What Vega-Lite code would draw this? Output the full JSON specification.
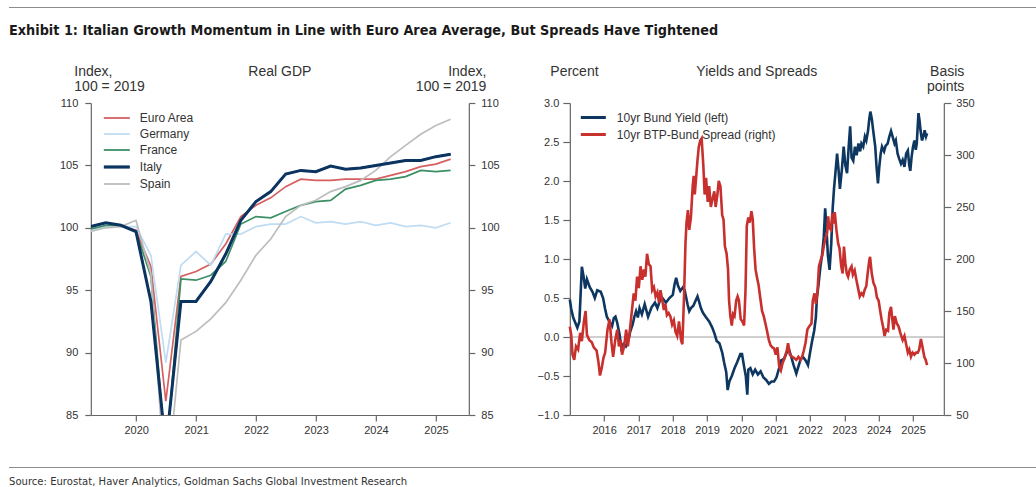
{
  "$schema": "https://vega.github.io/schema/vega-lite/v6.json",
  "background": "white",
  "padding": {"left": 9, "top": 7, "right": 0, "bottom": 0},
  "datasets": {
    "gdp": [
      {"quarter": "2019-03-31", "Euro Area": 99.9, "Germany": 99.8, "France": 99.9, "Italy": 100.1, "Spain": 99.7},
      {"quarter": "2019-06-30", "Euro Area": 100.1, "Germany": 100.1, "France": 100.2, "Italy": 100.4, "Spain": 100.0},
      {"quarter": "2019-09-30", "Euro Area": 100.2, "Germany": 100.1, "France": 100.2, "Italy": 100.2, "Spain": 100.1},
      {"quarter": "2019-12-31", "Euro Area": 99.8, "Germany": 100.1, "France": 99.7, "Italy": 99.7, "Spain": 100.6},
      {"quarter": "2020-03-31", "Euro Area": 96.9, "Germany": 97.8, "France": 96.1, "Italy": 94.1, "Spain": 96.3},
      {"quarter": "2020-06-30", "Euro Area": 86.1, "Germany": 89.2, "France": 81.6, "Italy": 82.3, "Spain": 78.6},
      {"quarter": "2020-09-30", "Euro Area": 96.1, "Germany": 97.0, "France": 95.9, "Italy": 94.1, "Spain": 91.0},
      {"quarter": "2020-12-31", "Euro Area": 96.5, "Germany": 98.1, "France": 95.8, "Italy": 94.1, "Spain": 91.7},
      {"quarter": "2021-03-31", "Euro Area": 97.1, "Germany": 97.0, "France": 96.2, "Italy": 95.7, "Spain": 92.7},
      {"quarter": "2021-06-30", "Euro Area": 98.7, "Germany": 99.5, "France": 97.3, "Italy": 97.9, "Spain": 94.0},
      {"quarter": "2021-09-30", "Euro Area": 100.9, "Germany": 99.5, "France": 100.3, "Italy": 100.6, "Spain": 95.8},
      {"quarter": "2021-12-31", "Euro Area": 101.8, "Germany": 100.1, "France": 100.9, "Italy": 102.1, "Spain": 97.8},
      {"quarter": "2022-03-31", "Euro Area": 102.4, "Germany": 100.3, "France": 100.8, "Italy": 102.9, "Spain": 99.1},
      {"quarter": "2022-06-30", "Euro Area": 103.3, "Germany": 100.3, "France": 101.3, "Italy": 104.3, "Spain": 100.9},
      {"quarter": "2022-09-30", "Euro Area": 103.9, "Germany": 100.9, "France": 101.8, "Italy": 104.6, "Spain": 101.8},
      {"quarter": "2022-12-31", "Euro Area": 103.8, "Germany": 100.4, "France": 102.1, "Italy": 104.5, "Spain": 102.2},
      {"quarter": "2023-03-31", "Euro Area": 103.8, "Germany": 100.5, "France": 102.2, "Italy": 104.95, "Spain": 102.9},
      {"quarter": "2023-06-30", "Euro Area": 103.9, "Germany": 100.3, "France": 103.1, "Italy": 104.7, "Spain": 103.3},
      {"quarter": "2023-09-30", "Euro Area": 103.9, "Germany": 100.5, "France": 103.4, "Italy": 104.8, "Spain": 103.8},
      {"quarter": "2023-12-31", "Euro Area": 103.9, "Germany": 100.2, "France": 103.8, "Italy": 105.0, "Spain": 104.6},
      {"quarter": "2024-03-31", "Euro Area": 104.2, "Germany": 100.4, "France": 103.9, "Italy": 105.2, "Spain": 105.7},
      {"quarter": "2024-06-30", "Euro Area": 104.5, "Germany": 100.1, "France": 104.1, "Italy": 105.4, "Spain": 106.6},
      {"quarter": "2024-09-30", "Euro Area": 104.9, "Germany": 100.2, "France": 104.6, "Italy": 105.4, "Spain": 107.5},
      {"quarter": "2024-12-31", "Euro Area": 105.1, "Germany": 100.0, "France": 104.5, "Italy": 105.7, "Spain": 108.2},
      {"quarter": "2025-03-31", "Euro Area": 105.5, "Germany": 100.4, "France": 104.6, "Italy": 105.9, "Spain": 108.7}
    ],
    "bund": [
      {"date": "2015-01-01", "yield": 0.48}, {"date": "2015-01-16", "yield": 0.36}, {"date": "2015-02-06", "yield": 0.25},
      {"date": "2015-03-22", "yield": 0.12}, {"date": "2015-04-13", "yield": 0.20}, {"date": "2015-05-09", "yield": 0.90},
      {"date": "2015-05-27", "yield": 0.78}, {"date": "2015-06-14", "yield": 0.62}, {"date": "2015-07-02", "yield": 0.74},
      {"date": "2015-08-01", "yield": 0.64}, {"date": "2015-08-30", "yield": 0.58}, {"date": "2015-09-24", "yield": 0.50},
      {"date": "2015-10-20", "yield": 0.60}, {"date": "2015-11-26", "yield": 0.58}, {"date": "2015-12-21", "yield": 0.50},
      {"date": "2016-01-12", "yield": 0.36}, {"date": "2016-01-30", "yield": 0.26}, {"date": "2016-02-25", "yield": 0.20},
      {"date": "2016-03-26", "yield": 0.14}, {"date": "2016-04-13", "yield": 0.24}, {"date": "2016-05-01", "yield": 0.26},
      {"date": "2016-05-20", "yield": 0.18}, {"date": "2016-06-14", "yield": 0.03}, {"date": "2016-07-02", "yield": -0.14},
      {"date": "2016-07-24", "yield": -0.09}, {"date": "2016-08-19", "yield": -0.12}, {"date": "2016-09-17", "yield": -0.03},
      {"date": "2016-10-05", "yield": 0.07}, {"date": "2016-10-31", "yield": 0.16}, {"date": "2016-11-18", "yield": 0.26},
      {"date": "2016-12-06", "yield": 0.33}, {"date": "2016-12-25", "yield": 0.25}, {"date": "2017-01-12", "yield": 0.37},
      {"date": "2017-02-06", "yield": 0.29}, {"date": "2017-03-08", "yield": 0.42}, {"date": "2017-04-13", "yield": 0.26},
      {"date": "2017-05-20", "yield": 0.38}, {"date": "2017-06-25", "yield": 0.44}, {"date": "2017-07-21", "yield": 0.37},
      {"date": "2017-08-15", "yield": 0.46}, {"date": "2017-09-13", "yield": 0.50}, {"date": "2017-10-20", "yield": 0.44},
      {"date": "2017-11-26", "yield": 0.50}, {"date": "2018-01-01", "yield": 0.54}, {"date": "2018-01-19", "yield": 0.67},
      {"date": "2018-02-06", "yield": 0.76}, {"date": "2018-02-25", "yield": 0.66}, {"date": "2018-03-22", "yield": 0.59},
      {"date": "2018-04-21", "yield": 0.64}, {"date": "2018-05-09", "yield": 0.59}, {"date": "2018-06-07", "yield": 0.42},
      {"date": "2018-06-25", "yield": 0.33}, {"date": "2018-07-13", "yield": 0.37}, {"date": "2018-08-08", "yield": 0.40},
      {"date": "2018-09-06", "yield": 0.48}, {"date": "2018-09-21", "yield": 0.52}, {"date": "2018-10-09", "yield": 0.45},
      {"date": "2018-10-27", "yield": 0.37}, {"date": "2018-11-18", "yield": 0.31}, {"date": "2018-12-17", "yield": 0.26},
      {"date": "2019-01-23", "yield": 0.20}, {"date": "2019-02-25", "yield": 0.12}, {"date": "2019-03-22", "yield": 0.04},
      {"date": "2019-04-13", "yield": -0.05}, {"date": "2019-05-12", "yield": -0.08}, {"date": "2019-06-11", "yield": -0.20},
      {"date": "2019-07-02", "yield": -0.33}, {"date": "2019-07-24", "yield": -0.45}, {"date": "2019-08-08", "yield": -0.68},
      {"date": "2019-08-26", "yield": -0.57}, {"date": "2019-09-21", "yield": -0.50}, {"date": "2019-10-20", "yield": -0.40},
      {"date": "2019-11-18", "yield": -0.32}, {"date": "2019-12-21", "yield": -0.22}, {"date": "2020-01-08", "yield": -0.22},
      {"date": "2020-01-30", "yield": -0.38}, {"date": "2020-02-17", "yield": -0.50}, {"date": "2020-03-04", "yield": -0.74},
      {"date": "2020-03-15", "yield": -0.42}, {"date": "2020-04-06", "yield": -0.40}, {"date": "2020-05-01", "yield": -0.48},
      {"date": "2020-05-27", "yield": -0.42}, {"date": "2020-06-25", "yield": -0.48}, {"date": "2020-07-24", "yield": -0.44},
      {"date": "2020-08-23", "yield": -0.52}, {"date": "2020-09-21", "yield": -0.55}, {"date": "2020-10-20", "yield": -0.60},
      {"date": "2020-11-18", "yield": -0.57}, {"date": "2020-12-14", "yield": -0.57}, {"date": "2021-01-08", "yield": -0.52},
      {"date": "2021-02-06", "yield": -0.40}, {"date": "2021-02-28", "yield": -0.30}, {"date": "2021-03-30", "yield": -0.28},
      {"date": "2021-04-28", "yield": -0.20}, {"date": "2021-05-20", "yield": -0.15}, {"date": "2021-06-14", "yield": -0.25},
      {"date": "2021-07-10", "yield": -0.36}, {"date": "2021-08-08", "yield": -0.47}, {"date": "2021-08-30", "yield": -0.38},
      {"date": "2021-09-24", "yield": -0.28}, {"date": "2021-10-20", "yield": -0.26}, {"date": "2021-11-15", "yield": -0.30},
      {"date": "2021-12-10", "yield": -0.36}, {"date": "2022-01-01", "yield": -0.20}, {"date": "2022-01-23", "yield": -0.05},
      {"date": "2022-02-14", "yield": 0.08}, {"date": "2022-03-04", "yield": 0.25}, {"date": "2022-03-15", "yield": 0.50},
      {"date": "2022-04-02", "yield": 0.68}, {"date": "2022-04-21", "yield": 0.90}, {"date": "2022-05-09", "yield": 1.05},
      {"date": "2022-05-27", "yield": 1.28}, {"date": "2022-06-11", "yield": 1.65}, {"date": "2022-06-22", "yield": 1.45},
      {"date": "2022-07-10", "yield": 1.05}, {"date": "2022-07-28", "yield": 0.86}, {"date": "2022-08-15", "yield": 1.20},
      {"date": "2022-08-30", "yield": 1.65}, {"date": "2022-09-13", "yield": 1.90}, {"date": "2022-09-28", "yield": 2.10},
      {"date": "2022-10-16", "yield": 2.35}, {"date": "2022-10-31", "yield": 2.15}, {"date": "2022-11-15", "yield": 1.90},
      {"date": "2022-12-06", "yield": 2.15}, {"date": "2022-12-25", "yield": 2.44}, {"date": "2023-01-12", "yield": 2.20},
      {"date": "2023-01-30", "yield": 2.10}, {"date": "2023-02-17", "yield": 2.45}, {"date": "2023-03-04", "yield": 2.70},
      {"date": "2023-03-19", "yield": 2.30}, {"date": "2023-04-06", "yield": 2.26}, {"date": "2023-04-24", "yield": 2.44},
      {"date": "2023-05-12", "yield": 2.33}, {"date": "2023-05-31", "yield": 2.48}, {"date": "2023-06-18", "yield": 2.38},
      {"date": "2023-07-02", "yield": 2.48}, {"date": "2023-07-21", "yield": 2.44}, {"date": "2023-08-08", "yield": 2.57},
      {"date": "2023-08-23", "yield": 2.52}, {"date": "2023-09-10", "yield": 2.64}, {"date": "2023-09-24", "yield": 2.80},
      {"date": "2023-10-05", "yield": 2.89}, {"date": "2023-10-20", "yield": 2.80}, {"date": "2023-11-07", "yield": 2.62},
      {"date": "2023-11-26", "yield": 2.44}, {"date": "2023-12-10", "yield": 2.18}, {"date": "2023-12-25", "yield": 1.97},
      {"date": "2024-01-08", "yield": 2.18}, {"date": "2024-01-23", "yield": 2.35}, {"date": "2024-02-06", "yield": 2.44},
      {"date": "2024-02-28", "yield": 2.38}, {"date": "2024-03-15", "yield": 2.45}, {"date": "2024-04-06", "yield": 2.48},
      {"date": "2024-04-24", "yield": 2.57}, {"date": "2024-05-12", "yield": 2.64}, {"date": "2024-05-31", "yield": 2.56},
      {"date": "2024-06-18", "yield": 2.48}, {"date": "2024-07-02", "yield": 2.52}, {"date": "2024-07-21", "yield": 2.35},
      {"date": "2024-08-08", "yield": 2.28}, {"date": "2024-08-26", "yield": 2.22}, {"date": "2024-09-13", "yield": 2.27},
      {"date": "2024-10-02", "yield": 2.18}, {"date": "2024-10-20", "yield": 2.35}, {"date": "2024-11-07", "yield": 2.39},
      {"date": "2024-11-22", "yield": 2.20}, {"date": "2024-12-03", "yield": 2.13}, {"date": "2024-12-17", "yield": 2.31},
      {"date": "2025-01-01", "yield": 2.44}, {"date": "2025-01-16", "yield": 2.52}, {"date": "2025-01-30", "yield": 2.40},
      {"date": "2025-02-10", "yield": 2.48}, {"date": "2025-02-28", "yield": 2.87}, {"date": "2025-03-11", "yield": 2.78},
      {"date": "2025-03-22", "yield": 2.65}, {"date": "2025-04-06", "yield": 2.52}, {"date": "2025-04-21", "yield": 2.57},
      {"date": "2025-05-05", "yield": 2.65}, {"date": "2025-05-20", "yield": 2.57}, {"date": "2025-05-31", "yield": 2.61}
    ],
    "btp": [
      {"date": "2015-01-01", "spread": 135}, {"date": "2015-01-16", "spread": 127}, {"date": "2015-01-30", "spread": 108},
      {"date": "2015-02-17", "spread": 103}, {"date": "2015-03-08", "spread": 116}, {"date": "2015-03-30", "spread": 113},
      {"date": "2015-04-21", "spread": 129}, {"date": "2015-05-09", "spread": 121}, {"date": "2015-05-31", "spread": 140},
      {"date": "2015-06-18", "spread": 150}, {"date": "2015-07-02", "spread": 127}, {"date": "2015-07-28", "spread": 122},
      {"date": "2015-08-23", "spread": 120}, {"date": "2015-09-13", "spread": 115}, {"date": "2015-10-13", "spread": 112},
      {"date": "2015-10-31", "spread": 102}, {"date": "2015-11-18", "spread": 88}, {"date": "2015-12-06", "spread": 95},
      {"date": "2015-12-25", "spread": 105}, {"date": "2016-01-12", "spread": 110}, {"date": "2016-02-06", "spread": 132},
      {"date": "2016-02-28", "spread": 142}, {"date": "2016-03-19", "spread": 120}, {"date": "2016-04-06", "spread": 106},
      {"date": "2016-04-28", "spread": 122}, {"date": "2016-05-20", "spread": 132}, {"date": "2016-06-07", "spread": 116},
      {"date": "2016-06-25", "spread": 122}, {"date": "2016-07-10", "spread": 108}, {"date": "2016-08-01", "spread": 116},
      {"date": "2016-08-23", "spread": 132}, {"date": "2016-09-10", "spread": 116}, {"date": "2016-09-28", "spread": 129},
      {"date": "2016-10-27", "spread": 154}, {"date": "2016-11-11", "spread": 167}, {"date": "2016-11-29", "spread": 160},
      {"date": "2016-12-17", "spread": 183}, {"date": "2017-01-04", "spread": 172}, {"date": "2017-01-23", "spread": 193},
      {"date": "2017-02-10", "spread": 180}, {"date": "2017-02-28", "spread": 190}, {"date": "2017-03-15", "spread": 183},
      {"date": "2017-04-02", "spread": 205}, {"date": "2017-04-21", "spread": 195}, {"date": "2017-05-09", "spread": 193},
      {"date": "2017-05-27", "spread": 170}, {"date": "2017-06-14", "spread": 173}, {"date": "2017-07-02", "spread": 164},
      {"date": "2017-07-21", "spread": 168}, {"date": "2017-08-08", "spread": 158}, {"date": "2017-08-23", "spread": 170},
      {"date": "2017-09-10", "spread": 161}, {"date": "2017-09-28", "spread": 151}, {"date": "2017-10-13", "spread": 157},
      {"date": "2017-10-31", "spread": 146}, {"date": "2017-11-18", "spread": 148}, {"date": "2017-12-06", "spread": 145},
      {"date": "2017-12-25", "spread": 137}, {"date": "2018-01-12", "spread": 141}, {"date": "2018-01-30", "spread": 130},
      {"date": "2018-02-17", "spread": 126}, {"date": "2018-03-08", "spread": 140}, {"date": "2018-03-30", "spread": 122},
      {"date": "2018-04-13", "spread": 118}, {"date": "2018-05-01", "spread": 165}, {"date": "2018-05-16", "spread": 215},
      {"date": "2018-05-27", "spread": 235}, {"date": "2018-06-11", "spread": 247}, {"date": "2018-06-25", "spread": 228},
      {"date": "2018-07-13", "spread": 240}, {"date": "2018-08-01", "spread": 270}, {"date": "2018-08-12", "spread": 280},
      {"date": "2018-08-23", "spread": 262}, {"date": "2018-09-06", "spread": 278}, {"date": "2018-09-21", "spread": 295},
      {"date": "2018-10-05", "spread": 308}, {"date": "2018-10-20", "spread": 314}, {"date": "2018-11-04", "spread": 316},
      {"date": "2018-11-22", "spread": 290}, {"date": "2018-12-06", "spread": 262}, {"date": "2018-12-21", "spread": 278},
      {"date": "2019-01-08", "spread": 255}, {"date": "2019-01-23", "spread": 270}, {"date": "2019-02-10", "spread": 250},
      {"date": "2019-02-28", "spread": 258}, {"date": "2019-03-19", "spread": 265}, {"date": "2019-04-02", "spread": 250},
      {"date": "2019-04-21", "spread": 262}, {"date": "2019-05-05", "spread": 275}, {"date": "2019-05-23", "spread": 270},
      {"date": "2019-06-11", "spread": 242}, {"date": "2019-06-25", "spread": 238}, {"date": "2019-07-10", "spread": 212},
      {"date": "2019-07-28", "spread": 205}, {"date": "2019-08-12", "spread": 190}, {"date": "2019-08-23", "spread": 160},
      {"date": "2019-09-06", "spread": 145}, {"date": "2019-09-21", "spread": 136}, {"date": "2019-10-05", "spread": 147},
      {"date": "2019-10-20", "spread": 145}, {"date": "2019-11-07", "spread": 160}, {"date": "2019-11-22", "spread": 164},
      {"date": "2019-12-06", "spread": 160}, {"date": "2019-12-25", "spread": 142}, {"date": "2020-01-12", "spread": 140},
      {"date": "2020-01-30", "spread": 136}, {"date": "2020-02-14", "spread": 170}, {"date": "2020-02-28", "spread": 232},
      {"date": "2020-03-15", "spread": 240}, {"date": "2020-03-30", "spread": 235}, {"date": "2020-04-17", "spread": 246},
      {"date": "2020-05-01", "spread": 238}, {"date": "2020-05-16", "spread": 210}, {"date": "2020-05-31", "spread": 190},
      {"date": "2020-06-14", "spread": 183}, {"date": "2020-07-02", "spread": 175}, {"date": "2020-07-21", "spread": 162},
      {"date": "2020-08-08", "spread": 150}, {"date": "2020-08-26", "spread": 145}, {"date": "2020-09-13", "spread": 138},
      {"date": "2020-10-02", "spread": 130}, {"date": "2020-10-20", "spread": 122}, {"date": "2020-11-07", "spread": 117},
      {"date": "2020-11-26", "spread": 115}, {"date": "2020-12-14", "spread": 114}, {"date": "2021-01-01", "spread": 108},
      {"date": "2021-01-19", "spread": 115}, {"date": "2021-02-06", "spread": 97}, {"date": "2021-02-25", "spread": 93},
      {"date": "2021-03-15", "spread": 100}, {"date": "2021-04-02", "spread": 104}, {"date": "2021-04-28", "spread": 112},
      {"date": "2021-05-12", "spread": 119}, {"date": "2021-05-31", "spread": 108}, {"date": "2021-06-22", "spread": 106},
      {"date": "2021-07-13", "spread": 105}, {"date": "2021-08-08", "spread": 103}, {"date": "2021-08-30", "spread": 106},
      {"date": "2021-09-21", "spread": 103}, {"date": "2021-10-09", "spread": 106}, {"date": "2021-10-27", "spread": 112},
      {"date": "2021-11-15", "spread": 120}, {"date": "2021-12-03", "spread": 132}, {"date": "2021-12-21", "spread": 135},
      {"date": "2022-01-16", "spread": 138}, {"date": "2022-01-30", "spread": 160}, {"date": "2022-02-17", "spread": 167},
      {"date": "2022-03-04", "spread": 157}, {"date": "2022-03-22", "spread": 170}, {"date": "2022-04-06", "spread": 193},
      {"date": "2022-04-24", "spread": 199}, {"date": "2022-05-12", "spread": 204}, {"date": "2022-05-27", "spread": 212},
      {"date": "2022-06-14", "spread": 220}, {"date": "2022-07-02", "spread": 225}, {"date": "2022-07-13", "spread": 241},
      {"date": "2022-07-24", "spread": 230}, {"date": "2022-08-12", "spread": 228}, {"date": "2022-08-26", "spread": 244},
      {"date": "2022-09-10", "spread": 234}, {"date": "2022-09-21", "spread": 245}, {"date": "2022-10-09", "spread": 228},
      {"date": "2022-10-27", "spread": 215}, {"date": "2022-11-11", "spread": 210}, {"date": "2022-11-29", "spread": 193},
      {"date": "2022-12-14", "spread": 186}, {"date": "2022-12-28", "spread": 212}, {"date": "2023-01-12", "spread": 196},
      {"date": "2023-01-27", "spread": 186}, {"date": "2023-02-10", "spread": 183}, {"date": "2023-02-28", "spread": 190},
      {"date": "2023-03-19", "spread": 193}, {"date": "2023-04-02", "spread": 185}, {"date": "2023-04-21", "spread": 189},
      {"date": "2023-05-09", "spread": 180}, {"date": "2023-05-27", "spread": 172}, {"date": "2023-06-14", "spread": 164},
      {"date": "2023-07-02", "spread": 167}, {"date": "2023-07-21", "spread": 165}, {"date": "2023-08-04", "spread": 170},
      {"date": "2023-08-23", "spread": 174}, {"date": "2023-09-06", "spread": 186}, {"date": "2023-09-24", "spread": 199},
      {"date": "2023-10-02", "spread": 202}, {"date": "2023-10-20", "spread": 186}, {"date": "2023-11-07", "spread": 177},
      {"date": "2023-11-26", "spread": 173}, {"date": "2023-12-14", "spread": 163}, {"date": "2024-01-01", "spread": 160},
      {"date": "2024-01-16", "spread": 151}, {"date": "2024-02-03", "spread": 141}, {"date": "2024-02-17", "spread": 135},
      {"date": "2024-03-04", "spread": 126}, {"date": "2024-03-22", "spread": 132}, {"date": "2024-04-10", "spread": 131},
      {"date": "2024-04-24", "spread": 148}, {"date": "2024-05-12", "spread": 154}, {"date": "2024-05-23", "spread": 144},
      {"date": "2024-06-07", "spread": 132}, {"date": "2024-06-22", "spread": 145}, {"date": "2024-07-13", "spread": 138},
      {"date": "2024-08-01", "spread": 135}, {"date": "2024-08-19", "spread": 129}, {"date": "2024-09-13", "spread": 122},
      {"date": "2024-10-02", "spread": 126}, {"date": "2024-10-20", "spread": 118}, {"date": "2024-11-07", "spread": 110},
      {"date": "2024-11-22", "spread": 113}, {"date": "2024-12-10", "spread": 106}, {"date": "2024-12-28", "spread": 110},
      {"date": "2025-01-16", "spread": 108}, {"date": "2025-02-03", "spread": 110}, {"date": "2025-02-21", "spread": 110},
      {"date": "2025-03-08", "spread": 113}, {"date": "2025-03-26", "spread": 123}, {"date": "2025-04-13", "spread": 115},
      {"date": "2025-05-01", "spread": 106}, {"date": "2025-05-16", "spread": 103}, {"date": "2025-05-31", "spread": 98}
    ]
  },
  "spacing": 25,
  "center": true,
  "resolve": {"scale": {"color": "independent"}, "legend": {"color": "independent"}},
  "vconcat": [
    {
      "width": 1047,
      "height": 1,
      "view": {"fill": "#8c8c8c", "stroke": null},
      "data": {"values": [{}]},
      "mark": {"type": "text", "text": "", "fontSize": 0.1},
      "title": {
        "text": "Exhibit 1: Italian Growth Momentum in Line with Euro Area Average, But Spreads Have Tightened",
        "orient": "bottom",
        "anchor": "start",
        "baseline": "alphabetic",
        "offset": 27,
        "font": "DejaVu Sans Condensed, sans-serif",
        "fontSize": 14.3,
        "fontWeight": "bold",
        "color": "#1a1a1a"
      }
    },
    {
      "spacing": 32,
      "center": true,
      "resolve": {"scale": {"color": "independent"}, "legend": {"color": "independent"}},
      "vconcat": [
        {
          "spacing": 37,
          "resolve": {"scale": {"color": "independent"}, "legend": {"color": "independent"}},
          "hconcat": [
            {
              "width": 378,
              "height": 312,
              "title": {"text": "Real GDP", "offset": -15},
              "data": {"name": "gdp"},
              "transform": [
                {"fold": ["Euro Area", "Germany", "France", "Italy", "Spain"], "as": ["country", "index"]}
              ],
              "layer": [
                {
                  "mark": {"type": "line", "clip": true, "strokeWidth": 1.7},
                  "encoding": {
                    "x": {
                      "field": "quarter",
                      "type": "temporal",
                      "scale": {"domain": [{"year": 2019, "month": 3, "date": 31}, {"year": 2025, "month": 7, "date": 20}]},
                      "axis": {
                        "title": null,
                        "values": [{"year": 2020}, {"year": 2021}, {"year": 2022}, {"year": 2023}, {"year": 2024}, {"year": 2025}],
                        "format": "%Y",
                        "tickSize": 6,
                        "labelPadding": 3,
                        "labelFlush": false
                      }
                    },
                    "y": {
                      "field": "index",
                      "type": "quantitative",
                      "scale": {"domain": [85, 110], "nice": false, "zero": false},
                      "axis": {
                        "title": ["Index,", "100 = 2019"],
                        "titleX": -17,
                        "titleY": -28,
                        "titleAlign": "left",
                        "titleBaseline": "alphabetic",
                        "values": [85, 90, 95, 100, 105, 110],
                        "tickSize": 6,
                        "labelPadding": 7
                      }
                    },
                    "color": {
                      "field": "country",
                      "type": "nominal",
                      "sort": ["Euro Area", "Germany", "France", "Italy", "Spain"],
                      "scale": {
                        "domain": ["Euro Area", "Germany", "France", "Italy", "Spain"],
                        "range": ["#d65f5f", "#bfdcf2", "#3b8f65", "#0c3461", "#bdbdbd"]
                      },
                      "legend": {
                        "title": null,
                        "orient": "none",
                        "legendX": 20,
                        "legendY": 9,
                        "symbolType": "M-2.6,0H2.6",
                        "symbolSize": 100,
                        "symbolStrokeWidth": 1.8,
                        "labelOffset": 17,
                        "rowPadding": 4,
                        "padding": 0,
                        "encode": {
                          "symbols": {"update": {"strokeWidth": {"signal": "datum.value === 'Italy' ? 3.2 : 1.8"}}}
                        }
                      }
                    }
                  }
                },
                {
                  "transform": [{"filter": {"field": "country", "equal": "Italy"}}],
                  "mark": {"type": "line", "clip": true, "strokeWidth": 3, "color": "#0c3461"},
                  "encoding": {
                    "x": {
                      "field": "quarter",
                      "type": "temporal",
                      "axis": {
                        "title": null,
                        "values": [{"year": 2020}, {"year": 2021}, {"year": 2022}, {"year": 2023}, {"year": 2024}, {"year": 2025}],
                        "format": "%Y",
                        "tickSize": 6,
                        "labelPadding": 3,
                        "labelFlush": false
                      }
                    },
                    "y": {
                      "field": "index",
                      "type": "quantitative",
                      "axis": {
                        "orient": "right",
                        "title": ["Index,", "100 = 2019"],
                        "titleX": 17,
                        "titleY": -28,
                        "titleAlign": "right",
                        "titleBaseline": "alphabetic",
                        "values": [85, 90, 95, 100, 105, 110],
                        "tickSize": 6,
                        "labelPadding": 6
                      }
                    }
                  }
                }
              ],
              "resolve": {"axis": {"y": "independent"}}
            },
            {
              "width": 374,
              "height": 312,
              "title": {"text": "Yields and Spreads", "offset": -15},
              "layer": [
                {
                  "layer": [
                    {
                      "data": {"values": [{"level": 0}]},
                      "mark": {"type": "rule", "color": "#a0a0a0", "strokeWidth": 1},
                      "encoding": {
                        "y": {
                          "field": "level",
                          "type": "quantitative",
                          "axis": {
                            "title": "Percent",
                            "titleX": -20,
                            "titleY": -28,
                            "titleAlign": "left",
                            "titleBaseline": "alphabetic",
                            "values": [-1, -0.5, 0, 0.5, 1, 1.5, 2, 2.5, 3],
                            "format": ".1f",
                            "tickSize": 7,
                            "labelPadding": 4
                          }
                        }
                      }
                    },
                    {
                      "data": {"name": "bund"},
                      "mark": {"type": "line", "strokeWidth": 2.6},
                      "encoding": {
                        "x": {
                          "field": "date",
                          "type": "temporal",
                          "scale": {"domain": [{"year": 2015, "month": 1, "date": 1}, {"year": 2025, "month": 11, "date": 25}]},
                          "axis": {
                            "title": null,
                            "values": [{"year": 2016}, {"year": 2017}, {"year": 2018}, {"year": 2019}, {"year": 2020}, {"year": 2021}, {"year": 2022}, {"year": 2023}, {"year": 2024}, {"year": 2025}],
                            "format": "%Y",
                            "tickSize": 6,
                            "labelPadding": 3,
                            "labelFlush": false
                          }
                        },
                        "y": {
                          "field": "yield",
                          "type": "quantitative",
                          "scale": {"domain": [-1, 3], "nice": false, "zero": false},
                          "axis": {
                            "title": "Percent",
                            "titleX": -20,
                            "titleY": -28,
                            "titleAlign": "left",
                            "titleBaseline": "alphabetic",
                            "values": [-1, -0.5, 0, 0.5, 1, 1.5, 2, 2.5, 3],
                            "format": ".1f",
                            "tickSize": 7,
                            "labelPadding": 4
                          }
                        },
                        "color": {
                          "datum": "10yr Bund Yield (left)",
                          "scale": {
                            "domain": ["10yr Bund Yield (left)", "10yr BTP-Bund Spread (right)"],
                            "range": ["#0d3760", "#c8302e"]
                          },
                          "legend": {
                            "title": null,
                            "orient": "none",
                            "legendX": 17,
                            "legendY": 8,
                            "symbolType": "M-2.5,0H2.5",
                            "symbolSize": 100,
                            "symbolStrokeWidth": 3,
                            "labelOffset": 17,
                            "rowPadding": 4,
                            "padding": 0
                          }
                        }
                      }
                    }
                  ]
                },
                {
                  "data": {"name": "btp"},
                  "mark": {"type": "line", "strokeWidth": 2.6},
                  "encoding": {
                    "x": {
                      "field": "date",
                      "type": "temporal",
                      "axis": {
                        "title": null,
                        "values": [{"year": 2016}, {"year": 2017}, {"year": 2018}, {"year": 2019}, {"year": 2020}, {"year": 2021}, {"year": 2022}, {"year": 2023}, {"year": 2024}, {"year": 2025}],
                        "format": "%Y",
                        "tickSize": 6,
                        "labelPadding": 3,
                        "labelFlush": false
                      }
                    },
                    "y": {
                      "field": "spread",
                      "type": "quantitative",
                      "scale": {"domain": [50, 350], "nice": false, "zero": false},
                      "axis": {
                        "orient": "right",
                        "title": ["Basis", "points"],
                        "titleX": 20,
                        "titleY": -28,
                        "titleAlign": "right",
                        "titleBaseline": "alphabetic",
                        "values": [50, 100, 150, 200, 250, 300, 350],
                        "tickSize": 7,
                        "labelPadding": 5
                      }
                    },
                    "color": {"datum": "10yr BTP-Bund Spread (right)"}
                  }
                }
              ],
              "resolve": {"scale": {"y": "independent"}}
            }
          ]
        },
        {
          "width": 1047,
          "height": 1,
          "view": {"fill": "#8c8c8c", "stroke": null},
          "data": {"values": [{}]},
          "mark": {"type": "text", "text": "", "fontSize": 0.1},
          "title": {
            "text": "Source: Eurostat, Haver Analytics, Goldman Sachs Global Investment Research",
            "orient": "bottom",
            "anchor": "start",
            "baseline": "alphabetic",
            "offset": 17,
            "font": "DejaVu Sans Condensed, sans-serif",
            "fontSize": 11.2,
            "fontWeight": "normal",
            "color": "#333333"
          }
        }
      ]
    }
  ],
  "config": {
    "font": "Liberation Sans",
    "view": {"stroke": null},
    "axis": {
      "grid": false,
      "domainColor": "#666666",
      "tickColor": "#666666",
      "domainWidth": 1.2,
      "tickWidth": 1.2,
      "labelColor": "#333333",
      "labelFontSize": 11,
      "titleFontSize": 14,
      "titleFontWeight": "normal",
      "titleColor": "#333333",
      "titleAngle": 0,
      "titleLineHeight": 15
    },
    "legend": {"labelFontSize": 12, "labelColor": "#333333"},
    "title": {"fontSize": 14, "fontWeight": "normal", "color": "#333333"}
  }
}
